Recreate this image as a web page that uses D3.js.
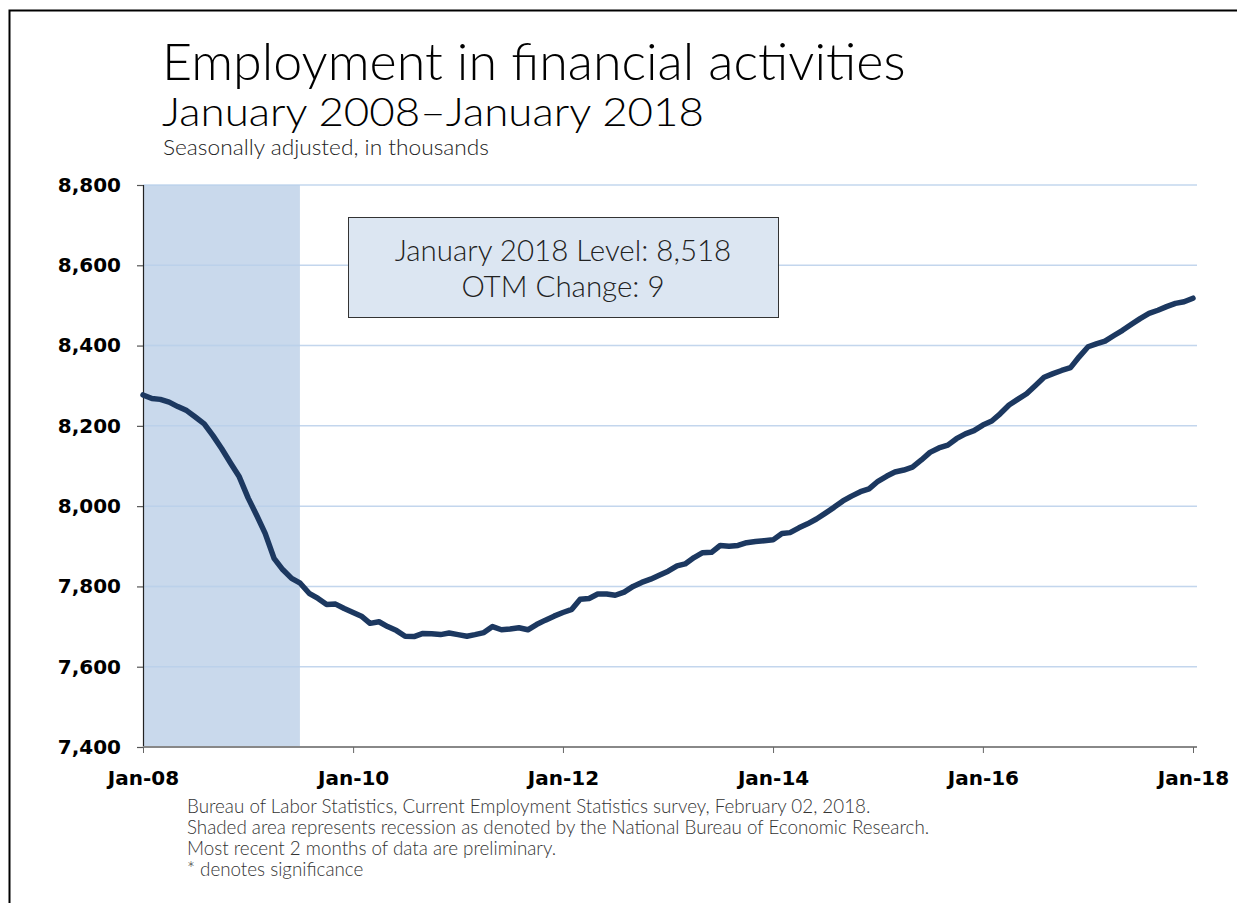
<!DOCTYPE html>
<html>
<head>
<meta charset="utf-8">
<script src="https://cdn.jsdelivr.net/npm/d3@7"></script>
<style>
  body { margin: 0; background: #fff; }
  svg { display: block; }
</style>
</head>
<body>
<div id="chart"></div>
<script>
// Financial activities employment, thousands, monthly Jan 2008 - Jan 2018
const startMonth = "2008-01";
const employment = [
  8277, 8268, 8266, 8259, 8248, 8238, 8222, 8205, 8175, 8143, 8107, 8073,
  8020, 7975, 7932, 7870, 7842, 7820, 7808, 7783, 7770, 7755, 7756, 7745,
  7735, 7725, 7708, 7712, 7700, 7690, 7676, 7675, 7683, 7682, 7680, 7684,
  7680, 7676, 7680, 7685, 7700, 7692, 7694, 7697, 7692, 7705, 7716, 7726,
  7735, 7743, 7768, 7770, 7781, 7781, 7778, 7786, 7800, 7810, 7818, 7828,
  7838, 7851, 7856, 7872, 7884, 7885, 7902, 7900, 7902, 7909, 7912, 7914,
  7916, 7932, 7934, 7946, 7956, 7968, 7982, 7997, 8013, 8025, 8036, 8043,
  8062, 8075, 8085, 8090, 8097, 8115, 8134, 8145, 8152, 8168, 8180, 8188,
  8202, 8212, 8230, 8252, 8266, 8280, 8300, 8321, 8330, 8338, 8345, 8372,
  8397, 8405, 8411, 8425, 8438, 8453, 8467, 8480, 8488, 8497, 8505, 8509,
  8518
];
const yTicks = [7400, 7600, 7800, 8000, 8200, 8400, 8600, 8800];
const xTickYears = [2008, 2010, 2012, 2014, 2016, 2018];
const recession = ["2007-12", "2009-06"];

const titleLines = ["Employment in financial activities", "January 2008\u2013January 2018"];
const subtitle = "Seasonally adjusted, in thousands";
const boxLines = ["January 2018 Level: 8,518", "OTM Change: 9"];
const notes = [
  "Bureau of Labor Statistics, Current Employment Statistics survey, February 02, 2018.",
  "Shaded area represents recession as denoted by the National Bureau of Economic Research.",
  "Most recent 2 months of data are preliminary.",
  "* denotes significance"
];

const width = 1237, height = 903;
const parseMonth = d3.timeParse("%Y-%m");
const start = parseMonth(startMonth);
const data = employment.map((v, i) => ({ date: d3.timeMonth.offset(start, i), value: v }));

const svg = d3.select("#chart").append("svg")
    .attr("width", width)
    .attr("height", height);

// outer frame
svg.append("rect")
    .attr("x", 9.5).attr("y", 10.5)
    .attr("width", 1240).attr("height", 900)
    .attr("fill", "none")
    .attr("stroke", "#000")
    .attr("stroke-width", 2);

const x = d3.scaleTime()
    .domain([data[0].date, data[data.length - 1].date])
    .range([143, 1193]);

const y = d3.scaleLinear()
    .domain([7400, 8800])
    .range([747, 185]);

// recession shading (half a month past the last recession month)
const recEnd = d3.timeDay.offset(parseMonth(recession[1]), 15);
svg.append("rect")
    .attr("x", x(data[0].date))
    .attr("y", y(8800))
    .attr("width", x(recEnd) - x(data[0].date) + 4)
    .attr("height", y(7400) - y(8800))
    .attr("fill", "#c9d9ec");

// gridlines
svg.append("g")
    .selectAll("line")
    .data(yTicks.filter(d => d > 7400))
    .enter().append("line")
    .attr("x1", x.range()[0])
    .attr("x2", 1197)
    .attr("y1", d => y(d))
    .attr("y2", d => y(d))
    .attr("stroke", "#b9cfea")
    .attr("stroke-opacity", 0.85)
    .attr("stroke-width", 1.5);

// y axis
const yAxis = svg.append("g")
    .attr("transform", `translate(${x.range()[0]},0)`)
    .call(d3.axisLeft(y).tickValues(yTicks).tickSize(6).tickPadding(16)
        .tickFormat(d3.format(",")));
yAxis.select(".domain").attr("stroke", "#222").attr("stroke-width", 1.2);
yAxis.selectAll(".tick line").attr("stroke", "#555").attr("stroke-width", 1.2);
yAxis.selectAll("text")
    .attr("font-family", "DejaVu Sans")
    .attr("font-weight", "bold")
    .attr("font-size", 20)
    .attr("fill", "#000");

// x axis
const xAxis = svg.append("g")
    .attr("transform", `translate(0,${y(7400)})`)
    .call(d3.axisBottom(x)
        .tickValues(xTickYears.map(yr => new Date(yr, 0, 1)))
        .tickSize(6).tickPadding(18)
        .tickFormat(d3.timeFormat("%b-%y")));
xAxis.select(".domain")
    .attr("d", `M${x.range()[0]},0H1197`)
    .attr("stroke", "#888").attr("stroke-width", 2.2);
xAxis.selectAll(".tick line").attr("stroke", "#666").attr("stroke-width", 1);
xAxis.selectAll("text")
    .attr("font-family", "DejaVu Sans")
    .attr("font-weight", "bold")
    .attr("font-size", 20)
    .attr("fill", "#000");

// data line
svg.append("path")
    .datum(data)
    .attr("fill", "none")
    .attr("stroke", "#1c3860")
    .attr("stroke-width", 5.5)
    .attr("stroke-linejoin", "round")
    .attr("stroke-linecap", "round")
    .attr("d", d3.line().x(d => x(d.date)).y(d => y(d.value)));

// callout box
svg.append("rect")
    .attr("x", 348.5).attr("y", 217.5)
    .attr("width", 430).attr("height", 100)
    .attr("fill", "#dce6f2")
    .attr("stroke", "#333")
    .attr("stroke-width", 1);

svg.append("g")
    .selectAll("text")
    .data(boxLines)
    .enter().append("text")
    .attr("x", 563)
    .attr("y", (d, i) => 261 + i * 36)
    .attr("text-anchor", "middle")
    .attr("font-family", "Lato")
    .attr("font-weight", 300)
    .attr("font-size", 29.5)
    .attr("fill", "#222")
    .text(d => d);

// titles
svg.append("text")
    .attr("x", 162).attr("y", 80)
    .attr("font-family", "Lato").attr("font-weight", 300)
    .attr("font-size", 52).attr("fill", "#000")
    .text(titleLines[0]);
svg.append("text")
    .attr("x", 162).attr("y", 126)
    .attr("font-family", "Lato").attr("font-weight", 300)
    .attr("font-size", 40).attr("fill", "#000")
    .attr("textLength", 542).attr("lengthAdjust", "spacingAndGlyphs")
    .text(titleLines[1]);
svg.append("text")
    .attr("x", 163).attr("y", 155)
    .attr("font-family", "Lato").attr("font-weight", 300)
    .attr("font-size", 21).attr("fill", "#222")
    .attr("textLength", 326).attr("lengthAdjust", "spacingAndGlyphs")
    .text(subtitle);

// notes
svg.append("g")
    .selectAll("text")
    .data(notes)
    .enter().append("text")
    .attr("x", 187)
    .attr("y", (d, i) => 813 + i * 21)
    .attr("font-family", "Lato")
    .attr("font-weight", 300)
    .attr("font-size", 18.8)
    .attr("fill", "#333")
    .text(d => d);
</script>
</body>
</html>
